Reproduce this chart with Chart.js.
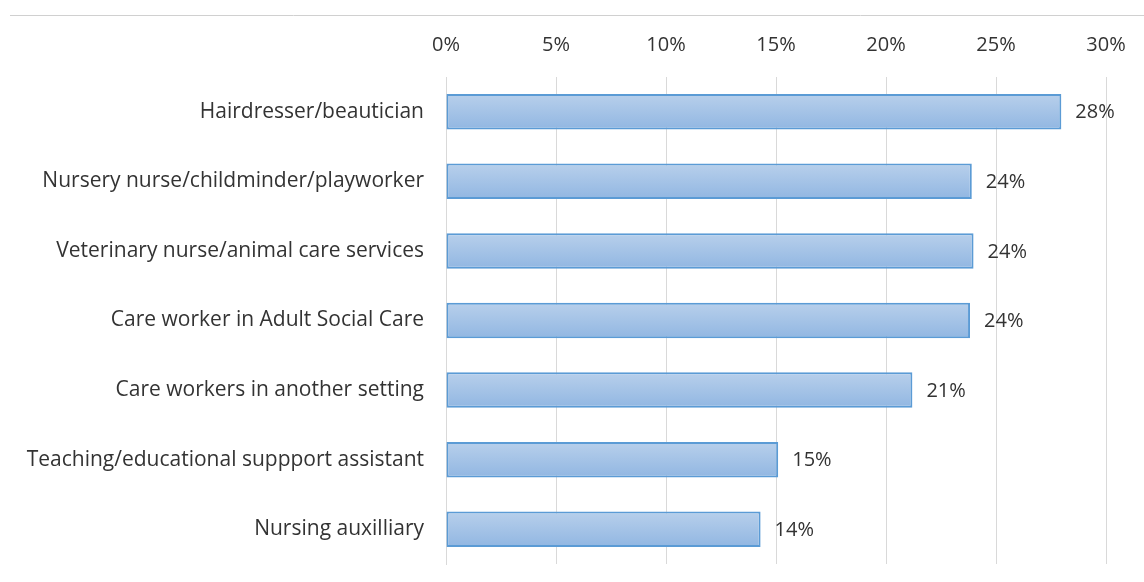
<!DOCTYPE html>
<html>
<head>
<meta charset="utf-8">
<script src="https://cdn.jsdelivr.net/npm/chart.js@4/dist/chart.umd.min.js"></script>
<style>
  html, body { margin: 0; padding: 0; background: #fff; }
  #wrap { width: 1144px; height: 582px; position: relative; }
</style>
</head>
<body>
<div id="wrap"><canvas id="myChart" width="1144" height="582"></canvas></div>
<script>
// occupations and share (%) of respondents
var occupations = [
    "Hairdresser/beautician",
    "Nursery nurse/childminder/playworker",
    "Veterinary nurse/animal care services",
    "Care worker in Adult Social Care",
    "Care workers in another setting",
    "Teaching/educational suppport assistant",
    "Nursing auxilliary"
];
var shares = [27.97, 23.9, 23.98, 23.82, 21.2, 15.1, 14.3];
var tickValues = [0, 5, 10, 15, 20, 25, 30];

var textColor = "#333333";
var fontFamily = "'Open Sans', 'Noto Sans', sans-serif";
var fontSize = 21;

// thin rule across the top of the page
var topRule = {
    id: "topRule",
    beforeDraw: function(chart) {
        var ctx = chart.ctx;
        ctx.save();
        ctx.strokeStyle = "#d0d0d0";
        ctx.lineWidth = 1;
        ctx.beginPath();
        ctx.moveTo(10, 15.5);
        ctx.lineTo(chart.width, 15.5);
        ctx.stroke();
        ctx.restore();
    }
};

// percentage label to the right of each bar
var barLabels = {
    id: "barLabels",
    afterDatasetsDraw: function(chart) {
        var ctx = chart.ctx;
        var meta = chart.getDatasetMeta(0);
        ctx.save();
        ctx.font = "20px " + fontFamily;
        ctx.fillStyle = textColor;
        ctx.textAlign = "left";
        ctx.textBaseline = "middle";
        meta.data.forEach(function(bar, i) {
            ctx.fillText(Math.round(shares[i]) + "%", bar.x + 14, bar.y + 1);
        });
        ctx.restore();
    }
};

function barFill(context) {
    var chart = context.chart;
    var y = chart.scales.y;
    if (!chart.chartArea || !y) return "#a4c2e6";
    var cy = y.getPixelForValue(context.dataIndex);
    var g = chart.ctx.createLinearGradient(0, cy - 17, 0, cy + 17);
    g.addColorStop(0, "#b7cfeb");
    g.addColorStop(1, "#92b7e2");
    return g;
}

var ctx = document.getElementById("myChart");

var myChart = new Chart(ctx, {
    type: "bar",
    data: {
        labels: occupations,
        datasets: [{
            data: shares,
            backgroundColor: barFill,
            borderColor: "#5b9bd5",
            borderWidth: 2,
            borderSkipped: false,
            barPercentage: 0.51,
            categoryPercentage: 1.0
        }]
    },
    plugins: [topRule, barLabels],
    options: {
        indexAxis: "y",
        responsive: false,
        animation: false,
        layout: {
            padding: { left: 10, top: 20, right: 38, bottom: 18 }
        },
        plugins: {
            legend: { display: false },
            tooltip: { enabled: false }
        },
        scales: {
            x: {
                position: "top",
                min: 0,
                max: 30,
                afterBuildTicks: function(scale) {
                    scale.ticks = tickValues.map(function(v) { return { value: v }; });
                },
                afterFit: function(scale) {
                    scale.height = 57;
                    scale.paddingLeft = 0;
                    scale.paddingRight = 0;
                },
                grid: {
                    color: "#d9d9d9",
                    lineWidth: 1,
                    drawTicks: false
                },
                border: { display: false },
                ticks: {
                    padding: 20,
                    color: textColor,
                    font: { family: fontFamily, size: 20 },
                    callback: function(v) { return v + "%"; }
                }
            },
            y: {
                afterFit: function(scale) {
                    scale.width = 436;
                    scale.paddingTop = 0;
                    scale.paddingBottom = 0;
                },
                grid: { display: false, drawTicks: false },
                border: { display: true, color: "#d9d9d9", width: 1 },
                ticks: {
                    padding: 22,
                    color: textColor,
                    font: { family: fontFamily, size: fontSize }
                }
            }
        }
    }
});
</script>
</body>
</html>
